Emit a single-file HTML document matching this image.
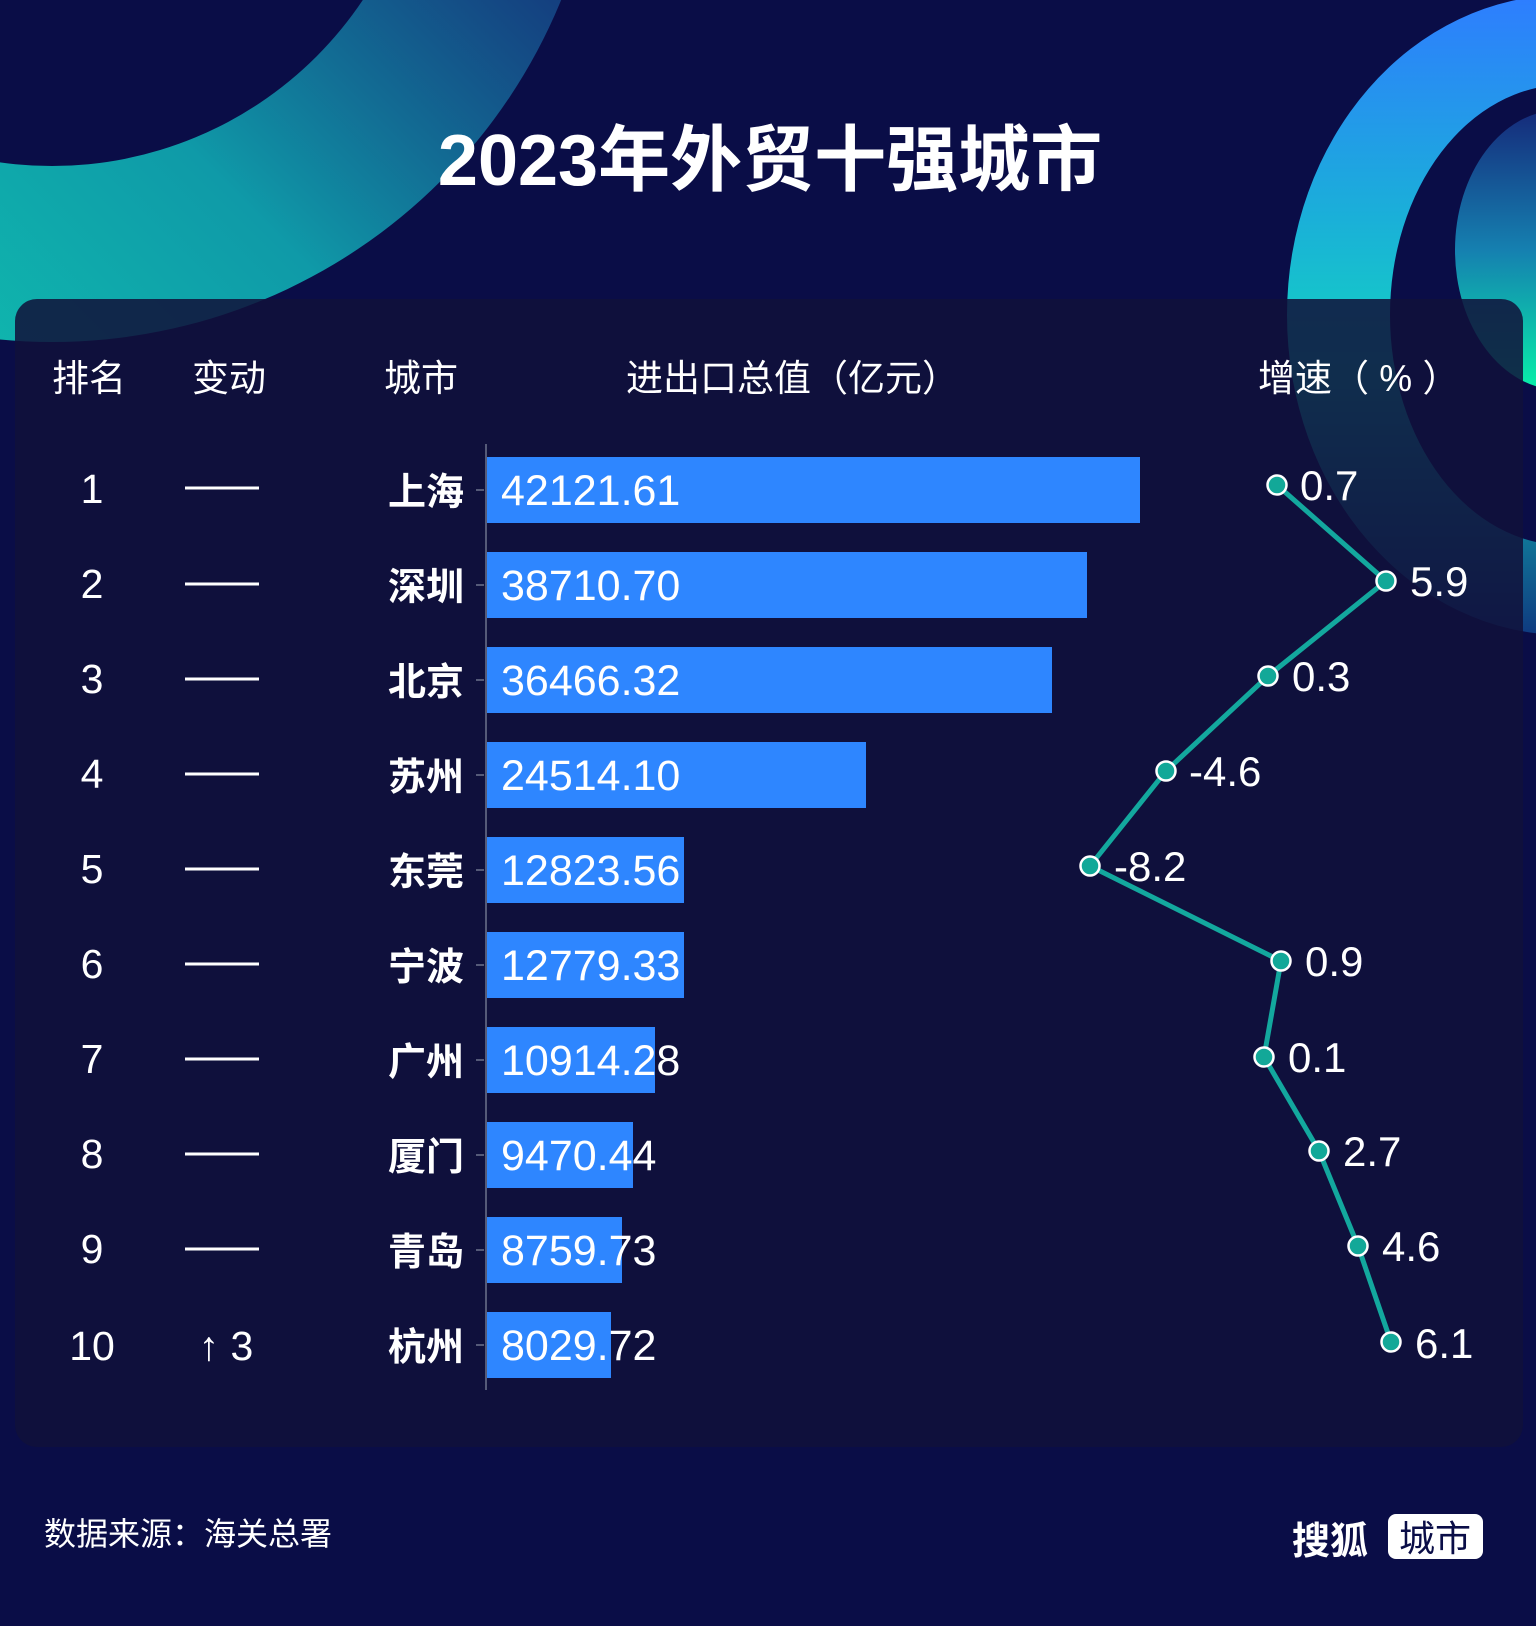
<!DOCTYPE html>
<html><head><meta charset="utf-8"><style>
html,body{margin:0;padding:0;background:#0a0d47;}
svg{display:block}
text{font-family:"Liberation Sans","Noto Sans CJK SC",sans-serif;}
</style></head><body>
<svg width="1536" height="1626" viewBox="0 0 1536 1626" xmlns="http://www.w3.org/2000/svg">
<defs>
<linearGradient id="g1" x1="0" y1="1" x2="1" y2="0">
<stop offset="0" stop-color="#10d6b4"/><stop offset="0.4" stop-color="#0f9aa8"/><stop offset="0.7" stop-color="#1a3a8a" stop-opacity="0.7"/><stop offset="1" stop-color="#1a2a80" stop-opacity="0.2"/>
</linearGradient>
<linearGradient id="g2" x1="0" y1="0" x2="0" y2="1">
<stop offset="0" stop-color="#2e7dff"/><stop offset="0.35" stop-color="#1ab0d8"/><stop offset="0.6" stop-color="#12d6bf"/><stop offset="1" stop-color="#0f3a80"/>
</linearGradient>
<linearGradient id="g3" x1="0" y1="0" x2="0" y2="1">
<stop offset="0" stop-color="#152a7a"/><stop offset="0.5" stop-color="#1580b0"/><stop offset="1" stop-color="#08f0a8"/>
</linearGradient>
</defs>
<rect width="1536" height="1626" fill="#0a0d47"/>
<path fill="url(#g1)" fill-rule="evenodd" d="M52,-208 m-550,0 a550,550 0 1,0 1100,0 a550,550 0 1,0 -1100,0 Z M52,-208 m-374,0 a374,374 0 1,0 748,0 a374,374 0 1,0 -748,0 Z"/>
<path fill="url(#g3)" fill-rule="evenodd" d="M1560,250 m-105,0 a105,140 0 1,0 210,0 a105,140 0 1,0 -210,0 Z M1580,250 m-40,0 a40,60 0 1,0 80,0 a40,60 0 1,0 -80,0 Z"/>
<path fill="url(#g2)" fill-rule="evenodd" d="M1565,315 m-278,0 a278,320 0 1,0 556,0 a278,320 0 1,0 -556,0 Z M1565,315 m-175,0 a175,230 0 1,0 350,0 a175,230 0 1,0 -350,0 Z"/>
<rect x="15" y="299" width="1508" height="1148" rx="22" fill="#10123a" fill-opacity="0.86"/>
<text x="770" y="185" text-anchor="middle" font-size="72" font-weight="bold" fill="#fff">2023年外贸十强城市</text>
<g font-size="37" fill="#fff">
<text x="52" y="391">排名</text><text x="192" y="391">变动</text><text x="384" y="391">城市</text>
<text x="626" y="391">进出口总值（亿元）</text><text x="1258" y="391">增速（ % ）</text>
</g>
<line x1="486" y1="444" x2="486" y2="1390" stroke="#555a78" stroke-width="2"/>
<g fill="#2e86ff">
<rect x="487" y="457" width="653" height="66"/>
<rect x="487" y="552" width="600" height="66"/>
<rect x="487" y="647" width="565" height="66"/>
<rect x="487" y="742" width="379" height="66"/>
<rect x="487" y="837" width="197" height="66"/>
<rect x="487" y="932" width="197" height="66"/>
<rect x="487" y="1027" width="168" height="66"/>
<rect x="487" y="1122" width="146" height="66"/>
<rect x="487" y="1217" width="135" height="66"/>
<rect x="487" y="1312" width="124" height="66"/>
</g>
<g font-size="43" fill="#fff">
<text x="501" y="505">42121.61</text><text x="501" y="600">38710.70</text><text x="501" y="695">36466.32</text>
<text x="501" y="790">24514.10</text><text x="501" y="885">12823.56</text><text x="501" y="980">12779.33</text>
<text x="501" y="1075">10914.28</text><text x="501" y="1170">9470.44</text><text x="501" y="1265">8759.73</text>
<text x="501" y="1360">8029.72</text>
</g>
<g font-size="38" font-weight="bold" fill="#fff" text-anchor="end">
<text x="464" y="505">上海</text><text x="464" y="600">深圳</text><text x="464" y="695">北京</text><text x="464" y="790">苏州</text>
<text x="464" y="885">东莞</text><text x="464" y="980">宁波</text><text x="464" y="1075">广州</text><text x="464" y="1170">厦门</text>
<text x="464" y="1265">青岛</text><text x="464" y="1360">杭州</text>
</g>
<g stroke="#555a78" stroke-width="2">
<line x1="476" y1="490" x2="484" y2="490"/><line x1="476" y1="585" x2="484" y2="585"/><line x1="476" y1="680" x2="484" y2="680"/>
<line x1="476" y1="775" x2="484" y2="775"/><line x1="476" y1="870" x2="484" y2="870"/><line x1="476" y1="965" x2="484" y2="965"/>
<line x1="476" y1="1060" x2="484" y2="1060"/><line x1="476" y1="1155" x2="484" y2="1155"/><line x1="476" y1="1250" x2="484" y2="1250"/>
<line x1="476" y1="1345" x2="484" y2="1345"/>
</g>
<g font-size="41" fill="#fff" text-anchor="middle">
<text x="92" y="503">1</text><text x="92" y="598">2</text><text x="92" y="693">3</text><text x="92" y="788">4</text>
<text x="92" y="883">5</text><text x="92" y="978">6</text><text x="92" y="1073">7</text><text x="92" y="1168">8</text>
<text x="92" y="1263">9</text><text x="92" y="1360">10</text>
<text x="226" y="1360">↑ 3</text>
</g>
<g stroke="#fff" stroke-width="3">
<line x1="185" y1="488" x2="259" y2="488"/><line x1="185" y1="584" x2="259" y2="584"/><line x1="185" y1="679" x2="259" y2="679"/>
<line x1="185" y1="774" x2="259" y2="774"/><line x1="185" y1="869" x2="259" y2="869"/><line x1="185" y1="964" x2="259" y2="964"/>
<line x1="185" y1="1059" x2="259" y2="1059"/><line x1="185" y1="1154" x2="259" y2="1154"/><line x1="185" y1="1249" x2="259" y2="1249"/>
</g>
<polyline fill="none" stroke="#13a89e" stroke-width="5" stroke-linejoin="round" points="1277,485 1386,581 1268,676 1166,771 1090,866 1281,961 1264,1057 1319,1151 1358,1246 1391,1342"/>
<g fill="#12a898" stroke="#fff" stroke-width="2.5">
<circle cx="1277" cy="485" r="9.5"/><circle cx="1386" cy="581" r="9.5"/><circle cx="1268" cy="676" r="9.5"/>
<circle cx="1166" cy="771" r="9.5"/><circle cx="1090" cy="866" r="9.5"/><circle cx="1281" cy="961" r="9.5"/>
<circle cx="1264" cy="1057" r="9.5"/><circle cx="1319" cy="1151" r="9.5"/><circle cx="1358" cy="1246" r="9.5"/>
<circle cx="1391" cy="1342" r="9.5"/>
</g>
<g font-size="42" fill="#fff">
<text x="1300" y="500">0.7</text><text x="1410" y="596">5.9</text><text x="1292" y="691">0.3</text>
<text x="1189" y="786">-4.6</text><text x="1114" y="881">-8.2</text><text x="1305" y="976">0.9</text>
<text x="1288" y="1072">0.1</text><text x="1343" y="1166">2.7</text><text x="1382" y="1261">4.6</text>
<text x="1415" y="1358">6.1</text>
</g>
<text x="44" y="1545" font-size="32" fill="#fff">数据来源：海关总署</text>
<text x="1292" y="1554" font-size="38" font-weight="bold" fill="#fff">搜狐</text>
<rect x="1388" y="1514" width="95" height="45" rx="8" fill="#fff"/>
<text x="1435" y="1551" font-size="36" fill="#0a0d47" text-anchor="middle">城市</text>
</svg>
</body></html>
